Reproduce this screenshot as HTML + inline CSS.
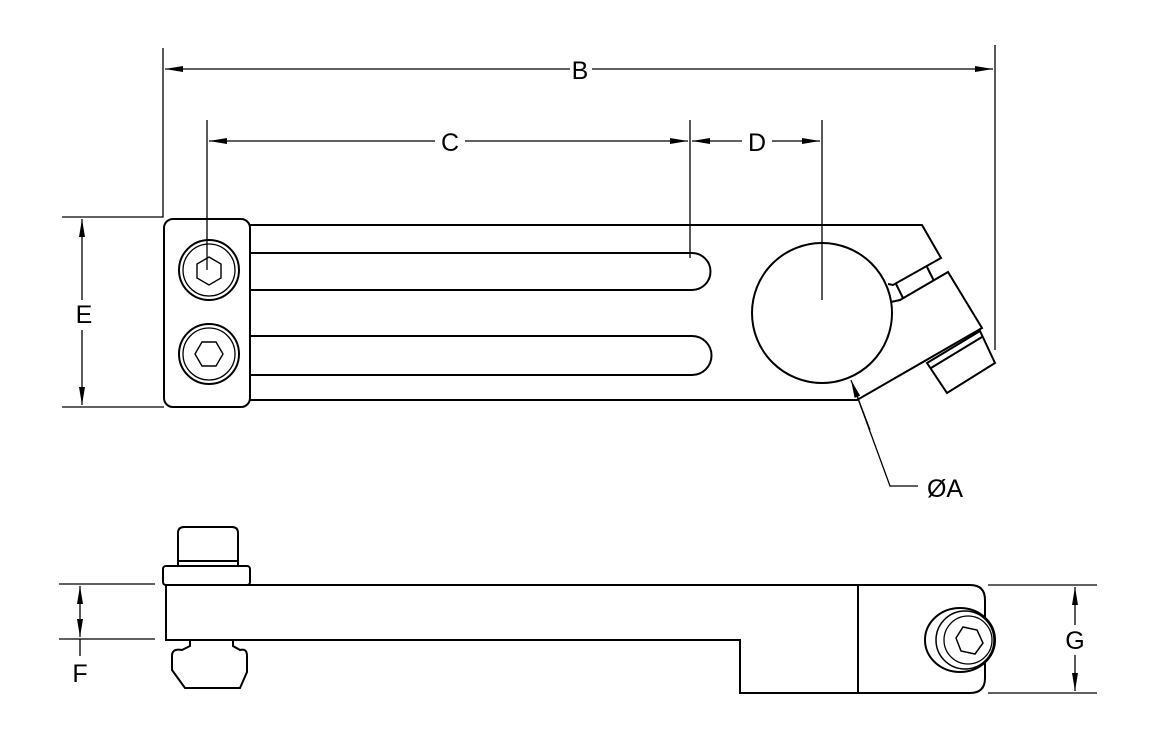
<!DOCTYPE html>
<html><head><meta charset="utf-8"><style>html,body{margin:0;padding:0;background:#fff}svg{display:block}</style></head>
<body>
<svg width="1152" height="745" viewBox="0 0 1152 745" xmlns="http://www.w3.org/2000/svg">
<defs>
<marker id="a" viewBox="0 0 18 8" refX="18" refY="4" markerWidth="18" markerHeight="8" markerUnits="userSpaceOnUse" orient="auto"><path d="M0,1 L18,4 L0,7 Z" fill="#000"/></marker>
</defs>
<g fill="none" stroke="#000" stroke-width="1.3">
<path d="M163,48 V217 H62 M62,407 H164 M995,45 V350 M207,120 V270 M690,120 V258 M822,120 V300"/>
<line x1="570" y1="69" x2="165" y2="69" marker-end="url(#a)"/>
<line x1="592" y1="69" x2="993" y2="69" marker-end="url(#a)"/>
<line x1="435" y1="141" x2="209" y2="141" marker-end="url(#a)"/>
<line x1="465" y1="141" x2="688" y2="141" marker-end="url(#a)"/>
<line x1="742" y1="141" x2="692" y2="141" marker-end="url(#a)"/>
<line x1="772" y1="141" x2="820" y2="141" marker-end="url(#a)"/>
<line x1="82" y1="300" x2="82" y2="219" marker-end="url(#a)"/>
<line x1="82" y1="330" x2="82" y2="405" marker-end="url(#a)"/>
<path d="M918,486 H890 L853,385"/>
<line x1="870" y1="430" x2="851" y2="380" marker-end="url(#a)"/>
</g>
<g fill="none" stroke="#000" stroke-width="2">
<rect x="164" y="219" width="86" height="188" rx="9"/>
<path d="M250,225 H922 L941,258 L893,285 L888,284"/>
<path d="M891,302 L900,300 L948,272 L982,328 L857,400 H250"/>
<path d="M896,284 L903,298 M927,267 L934,281"/>
<path d="M250,253 H692 A18.5,18.5 0 0 1 692,290 H250"/>
<path d="M250,336 H692 A19.5,19.5 0 0 1 692,375 H250"/>
<circle cx="822" cy="313" r="70"/>
<path d="M927,363 L980,331 L995,363 L947,393 Z M931,368 L982,337"/>
<circle cx="209" cy="270" r="30"/><circle cx="209" cy="270" r="26" stroke-width="1.3"/>
<polygon points="209,257 221,264 221,278 209,285 197,278 197,264" stroke-width="1.4"/>
<circle cx="209" cy="354" r="30"/><circle cx="209" cy="354" r="26" stroke-width="1.3"/>
<polygon points="195,354 202,342 216,342 223,354 216,366 202,366" stroke-width="1.4"/>
<path d="M166,585 H970 Q985,585 985,600 V678 Q985,693 970,693 H740 V640 H166 Z"/>
<line x1="858" y1="585" x2="858" y2="693"/>
<rect x="163" y="566" width="87" height="19" rx="3"/>
<path d="M178,566 V533 Q178,527 184,527 H232 Q238,527 238,533 V566 M178,561 H238"/>
<path d="M190,640 V646 L182,650 Q172,648 172,656 V670 L185,688 H240 L247,672 V656 Q247,648 240,650 L233,646 V640"/>
<ellipse cx="960" cy="640" rx="35" ry="32" fill="#fff"/>
<circle cx="965" cy="640" r="29" stroke-width="1.5"/>
<circle cx="968" cy="640" r="24" stroke-width="1.3"/>
<polygon points="963,627 977,630 983,643 975,654 961,651 956,638" stroke-width="1.5"/>
</g>
<g fill="none" stroke="#000" stroke-width="1.3">
<path d="M59,584 H155 M59,639 H155 M80,639 V656"/>
<line x1="80" y1="612" x2="80" y2="586" marker-end="url(#a)"/>
<line x1="80" y1="612" x2="80" y2="637" marker-end="url(#a)"/>
<path d="M988,585 H1097 M988,693 H1097"/>
<line x1="1075" y1="625" x2="1075" y2="587" marker-end="url(#a)"/>
<line x1="1075" y1="655" x2="1075" y2="691" marker-end="url(#a)"/>
</g>
<g font-family="Liberation Sans, sans-serif" font-size="25" fill="#000" text-anchor="middle">
<text x="580" y="79">B</text>
<text x="450" y="151">C</text>
<text x="757" y="151">D</text>
<text x="84" y="323">E</text>
<text x="80" y="682">F</text>
<text x="1075" y="649">G</text>
<text x="945" y="497">ØA</text>
</g>
</svg>
</body></html>
